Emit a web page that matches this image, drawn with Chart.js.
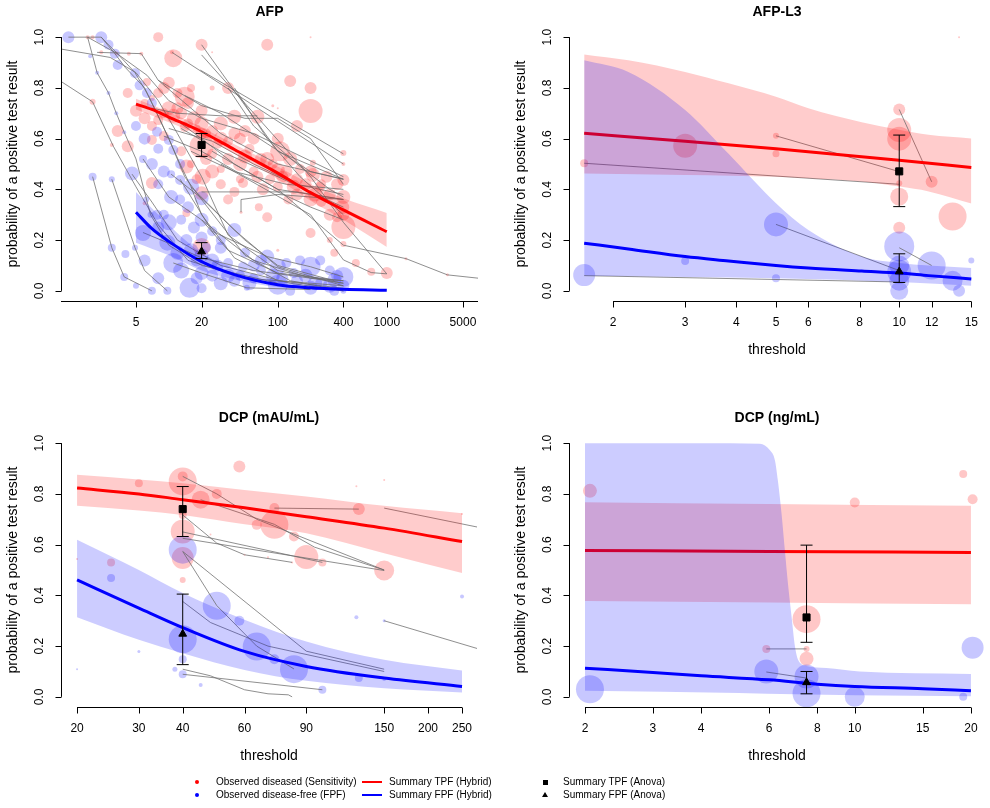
<!DOCTYPE html>
<html>
<head>
<meta charset="utf-8">
<title>Threshold summary plots</title>
<script src="https://cdn.jsdelivr.net/npm/chart.js@4.4.1/dist/chart.umd.min.js"></script>
<style>
  body { margin: 0; background: #fff; font-family: "Liberation Sans", Arial, Helvetica, sans-serif; }
  #page { position: relative; width: 990px; height: 808px; overflow: hidden; }
  canvas { position: absolute; }
  .lg { position: absolute; font-size: 10px; line-height: 12px; white-space: nowrap; color: #000; }
  .dot { position: absolute; width: 4px; height: 4px; border-radius: 50%; }
  .bar { position: absolute; width: 20px; height: 2px; }
  .sq { position: absolute; width: 5px; height: 5px; background: #000; }
  .tri { position: absolute; width: 0; height: 0; border-left: 3px solid transparent; border-right: 3px solid transparent; border-bottom: 5px solid #000; }
</style>
</head>
<body>
<div id="page">
  <canvas id="afp" width="495" height="400" style="left:0;top:0"></canvas>
  <canvas id="afpl3" width="495" height="400" style="left:495px;top:0"></canvas>
  <canvas id="dcpmau" width="495" height="380" style="left:0;top:400px"></canvas>
  <canvas id="dcpng" width="495" height="380" style="left:495px;top:400px"></canvas>

  <span class="dot" style="left:195px;top:780px;background:#f00"></span>
  <span class="lg" style="left:216px;top:776px">Observed diseased (Sensitivity)</span>
  <span class="dot" style="left:195px;top:793px;background:#00f"></span>
  <span class="lg" style="left:216px;top:789px">Observed disease-free (FPF)</span>
  <span class="bar" style="left:362px;top:781px;background:#f00"></span>
  <span class="lg" style="left:389px;top:776px">Summary TPF (Hybrid)</span>
  <span class="bar" style="left:362px;top:794px;background:#00f"></span>
  <span class="lg" style="left:389px;top:789px">Summary FPF (Hybrid)</span>
  <span class="sq" style="left:543px;top:780px"></span>
  <span class="lg" style="left:563px;top:776px">Summary TPF (Anova)</span>
  <span class="tri" style="left:542px;top:792px"></span>
  <span class="lg" style="left:563px;top:789px">Summary FPF (Anova)</span>
</div>
<script>
// shared axis ticks
const yTicks = [0, 0.2, 0.4, 0.6, 0.8, 1.0];

// ---------- AFP ----------
const afpTicks = [5, 20, 100, 400, 1000, 5000];
// [threshold, probability, study weight]
const afpDiseased = [
  [8,1.0,5],[20,0.97,6],[80,0.97,6],[200,1.0,1],[11,0.917,9],[10.7,0.94,2],[130,0.827,6],[200,0.80,6],
  [200,0.709,12],[90,0.73,1.5],[150,0.65,6],[35,0.80,6],[14,0.765,10],[10,0.82,6],[16,0.80,4],[25,0.80,2.5],
  [40,0.686,7],[65,0.686,7],[30,0.66,7],[20,0.71,6],[11,0.69,7],[5,0.71,6],[4.2,0.78,5],[3.4,0.63,6],
  [4.2,0.57,6],[2,0.745,3],[3,0.575,2],[7,0.425,6],[6,0.345,2],[9,0.61,5],[20,0.57,12],[20.5,0.45,8],
  [20,0.385,7],[20,0.173,9],[25,0.54,5],[30,0.48,4],[35,0.59,5],[50,0.53,7],[48,0.425,5],[80,0.29,5],
  [105,0.55,10],[100,0.476,7],[100,0.41,5],[160,0.48,5],[210,0.457,7],[200,0.36,7],[200,0.228,5],[210,0.505,3],
  [400,0.543,3],[400,0.50,2],[400,0.437,6],[400,0.37,7],[400,0.252,12],[390,0.33,7],[330,0.15,4],[520,0.11,4],
  [720,0.075,4],[1000,0.07,6],[1500,0.127,1.5],[3600,0.063,1.5],[400,0.185,3],[300,0.2,3],[46,0.31,1.5],[100,0.16,1.5],
  [14.5,0.49,7],[22,0.62,5],[14,0.646,5],[8,0.673,5],[7,0.595,5],[6.3,0.823,4],[5.6,0.935,2],[4.3,0.935,2],
  [3.3,0.937,2],[2.4,0.94,2],[1.8,1.0,2],[2.0,1.0,2],[14.5,0.307,4],[35,0.36,5],[30,0.42,5],[67,0.33,4],
  [40,0.39,5],[140,0.41,7],[245,0.41,5],[350,0.29,5],[125,0.36,5],[73,0.40,6],[12,0.72,6],[15,0.66,5],
  [18,0.64,4],[25,0.63,6],[28,0.58,5],[45,0.60,6],[55,0.56,5],[70,0.52,6],[90,0.50,5],[120,0.47,6],
  [150,0.44,6],[250,0.42,5],[300,0.38,6],[250,0.35,5],[6,0.74,4],[7,0.76,3],[9,0.70,5],[13,0.55,5],
  [16,0.50,4],[18,0.44,5],[45,0.44,4],[60,0.47,5],[85,0.44,5],[25,0.94,1],[100,0.72,1],
  [6,0.68,6],[7,0.65,5],[8,0.78,5],[9,0.80,6],[10,0.72,7],[12,0.78,5],[13,0.70,6],[15,0.74,6],
  [17,0.68,7],[20,0.66,7],[20,0.62,6],[22,0.52,6],[25,0.47,7],[30,0.60,7],[35,0.52,6],[40,0.62,6],
  [45,0.50,7],[50,0.63,6],[60,0.60,6],[65,0.45,6],[80,0.52,7],[100,0.60,6],[110,0.45,6],[130,0.52,7],
  [150,0.38,6],[180,0.42,6],[200,0.47,6],[220,0.38,7],[280,0.45,6],[300,0.30,6],[350,0.42,6],[400,0.30,6]
];
const afpFree = [
  [1.2,1.0,6],[2.4,1.0,6],[2.8,0.97,5],[3.2,0.935,5],[3.4,0.89,5],[4.9,0.858,5],[5.4,0.81,5],[6.3,0.78,5],
  [7,0.74,5],[7.8,0.627,5],[10,0.595,5],[11,0.555,5],[12.7,0.50,5],[4.6,0.463,7],[5.8,0.52,4],[16,0.41,8],
  [20,0.365,7],[20,0.28,7],[10.5,0.37,7],[10.5,0.46,4],[12.7,0.437,5],[5.8,0.228,8],[9.7,0.19,8],[11,0.11,10],
  [15.5,0.012,10],[20,0.07,7],[20,0.01,5],[30,0.03,7],[40,0.24,7],[25,0.235,5],[35,0.11,5],[48,0.095,5],
  [80,0.135,7],[100,0.095,8],[100,0.024,10],[140,0.07,5],[200,0.095,10],[200,0.012,7],[330,0.043,7],[400,0.055,10],
  [400,0.0,3],[330,0.0,5],[130,0.0,5],[52,0.012,3],[9.7,0.0,4],[7,0.0,4],[2,0.45,4],[3,0.44,3],
  [3,0.17,4],[4,0.145,4],[4.9,0.17,3],[3.9,0.055,4],[5,0.02,3],[2.2,0.86,2],[2.8,0.78,2],[3.3,0.70,2],
  [3.9,0.625,2],[1.9,0.925,2],[6.2,0.36,3],[6.8,0.30,3],[245,0.12,5],[120,0.11,5],[60,0.05,5],[25,0.06,6],
  [12.7,0.36,5],[7.8,0.30,5],[14.5,0.20,6],[22,0.17,5],[8,0.25,6],[9,0.30,5],[13,0.28,5],[17,0.25,6],
  [30,0.17,6],[50,0.15,5],[60,0.10,6],[70,0.08,5],[150,0.04,6],[250,0.03,6],[300,0.08,5],[400,0.02,6],
  [160,0.12,5],[45,0.06,5],[18,0.12,6],[8,0.42,5],[15,0.33,6],[20,0.21,6],[30,0.20,5],
  [5,0.65,5],[6,0.60,6],[7,0.50,6],[8,0.56,5],[9,0.47,6],[10,0.27,8],[12,0.15,7],[13,0.08,8],
  [16,0.16,7],[18,0.05,6],[20,0.14,7],[25,0.12,7],[28,0.10,6],[35,0.06,7],[40,0.04,6],[55,0.03,7],
  [70,0.12,6],[90,0.06,7],[110,0.05,6],[180,0.06,7],[220,0.03,7],[300,0.02,7],[350,0.06,6],[6,0.12,6],[8,0.05,6]
];
const afpLinks = [
  [[10.7,0.94],[400,0.50]],
  [[20,0.97],[100,0.55],[400,0.44]],
  [[19.5,0.87],[400,0.54]],
  [[2.2,0.94],[5.6,0.935],[8,0.83],[15,0.73],[30,0.62],[100,0.5],[400,0.44]],
  [[1.8,1.0],[3.3,0.937],[6.3,0.85],[10,0.75],[20,0.68],[60,0.62],[400,0.45]],
  [[8,0.83],[20,0.73],[50,0.68],[100,0.68],[200,0.6],[400,0.42]],
  [[12,0.67],[20,0.6],[40,0.5],[100,0.4],[400,0.36]],
  [[13,0.64],[30,0.55],[100,0.45],[250,0.37],[400,0.33]],
  [[25,0.55],[100,0.4],[400,0.18],[1500,0.127],[3600,0.063],[6870,0.05]],
  [[30,0.5],[200,0.3],[400,0.122],[720,0.072],[1000,0.067]],
  [[20,0.93],[200,0.45],[400,0.27],[1000,0.067]],
  [[40,0.8],[80,0.6],[160,0.45],[400,0.3]],
  [[35,0.8],[60,0.65],[150,0.5],[300,0.4],[400,0.37]],
  [[46,0.31],[46,0.36],[100,0.38],[400,0.36]],
  [[7,0.72],[12,0.70],[30,0.69],[65,0.69]],
  [[10,0.64],[25,0.59],[60,0.5],[150,0.42],[400,0.38]],
  [[16,0.55],[40,0.47],[120,0.42],[400,0.4]],
  [[20,0.39],[60,0.39],[150,0.39],[400,0.36]],
  [[9,0.61],[20,0.55],[50,0.45],[200,0.33],[400,0.28]],
  [[14,0.77],[30,0.7],[80,0.58],[200,0.47],[400,0.44]],
  [[1.2,1.0],[1.8,1.0],[2.4,1.0],[2.8,0.97],[3.3,0.94],[4.9,0.86],[6.3,0.78],[7.8,0.7],[10,0.6],[12.7,0.5],[16,0.41],[20,0.3],[40,0.13],[100,0.04],[400,0.01]],
  [[1.03,0.953],[2.9,0.92],[5,0.86],[8,0.75],[12,0.62],[20,0.45],[35,0.22],[100,0.08],[400,0.03]],
  [[1.03,0.825],[2,0.745],[3.1,0.57],[5,0.41],[8,0.26],[15,0.12],[50,0.05],[400,0.02]],
  [[1.8,1.0],[2.2,0.86],[2.8,0.78],[3.3,0.7],[3.9,0.625],[5,0.52],[6.8,0.3],[10,0.18],[20,0.1],[100,0.03]],
  [[2,0.45],[3,0.17],[3.9,0.055],[7,0.0]],
  [[3,0.44],[4.9,0.17],[6,0.08],[9.7,0.0]],
  [[2.4,1.0],[3.2,0.935],[4,0.88],[6,0.80],[7,0.74],[10,0.6],[14,0.45],[20,0.36],[50,0.14],[130,0.04],[400,0.0]],
  [[5.8,0.52],[10,0.37],[20,0.28],[60,0.12],[200,0.05],[400,0.04]],
  [[10.5,0.46],[20,0.365],[50,0.2],[100,0.1],[330,0.04]],
  [[12.7,0.44],[25,0.235],[80,0.135],[200,0.095],[400,0.055]],
  [[16,0.41],[40,0.24],[100,0.095],[400,0.02]],
  [[5.8,0.23],[9.7,0.19],[20,0.13],[60,0.08],[200,0.05],[400,0.03]],
  [[4.6,0.46],[7,0.35],[12,0.2],[30,0.1],[130,0.03],[400,0.0]],
  [[20,0.28],[35,0.16],[100,0.07],[245,0.05],[400,0.04]],
  [[11,0.11],[20,0.07],[52,0.012],[200,0.005]]
];
const afpTpfFit = [[5,0.736],[7,0.715],[10,0.685],[20,0.627],[40,0.557],[100,0.464],[200,0.387],[400,0.319],[1000,0.233]];
const afpTpfLo  = [[5,0.715],[10,0.665],[20,0.61],[40,0.54],[100,0.44],[200,0.355],[400,0.28],[1000,0.173]];
const afpTpfHi  = [[5,0.757],[10,0.705],[20,0.645],[40,0.578],[100,0.49],[200,0.42],[400,0.365],[1000,0.307]];
const afpFpfFit = [[5,0.31],[7,0.245],[10,0.195],[20,0.115],[40,0.064],[100,0.024],[200,0.012],[400,0.006],[1000,0.002]];
const afpFpfLo  = [[5,0.19],[10,0.14],[20,0.08],[40,0.045],[100,0.015],[400,0.003],[1000,0.001]];
const afpFpfHi  = [[5,0.39],[10,0.26],[20,0.15],[40,0.09],[100,0.04],[400,0.012],[1000,0.006]];
const afpAnovaT = 20;
const afpAnovaTpf = [0.575, 0.53, 0.62];   // estimate, lower, upper
const afpAnovaFpf = [0.155, 0.127, 0.19];

// ---------- AFP-L3 ----------
const l3Ticks = [2, 3, 4, 5, 6, 8, 10, 12, 15];
const l3Diseased = [[1.7,0.503,4],[3,0.572,12],[5,0.611,3],[5,0.54,3.5],[10,0.715,6],[10,0.634,12],[10,0.60,12],
  [10,0.424,3],[10,0.371,9],[10,0.249,6],[12,0.43,6],[13.5,0.293,14],[14,1.0,1]];
const l3Free = [[1.7,0.062,11],[3,0.118,4],[5,0.262,12],[5,0.05,4],[10,0.175,15],[10,0.10,10],[10,0.075,12],
  [10,0.04,10],[10,0.0,9],[12,0.10,14],[13.5,0.04,10],[14,0.0,6],[15,0.12,3]];
const l3Links = [
  [[1.7,0.503],[10,0.42]], [[5,0.611],[10,0.47]], [[10,0.715],[12,0.43]],
  [[1.7,0.06],[10,0.035]], [[5,0.262],[10,0.08]], [[10,0.17],[12,0.10]]
];
const l3TpfFit = [[1.7,0.621],[3,0.59],[5,0.56],[10,0.515],[15,0.486]];
const l3TpfHi  = [[1.7,0.932],[2.18,0.909],[3,0.863],[3.83,0.818],[5,0.765],[6,0.72],[8.1,0.665],[10,0.635],[11.8,0.615],[15,0.601]];
const l3TpfLo  = [[1.7,0.463],[3,0.457],[5,0.45],[6,0.444],[8.1,0.431],[10,0.411],[11.8,0.392],[15,0.344]];
const l3FpfFit = [[1.7,0.188],[2.18,0.165],[3,0.135],[3.83,0.118],[5,0.10],[6,0.09],[8.1,0.078],[10,0.07],[11.8,0.06],[15,0.047]];
const l3FpfHi  = [[1.7,0.909],[2.18,0.863],[3,0.713],[3.83,0.54],[5,0.345],[6,0.24],[8.1,0.135],[10,0.11],[11.8,0.10],[15,0.09]];
const l3FpfLo  = [[1.7,0.06],[3,0.055],[5,0.05],[10,0.035],[15,0.02]];
const l3AnovaT = 10;
const l3AnovaTpf = [0.471, 0.332, 0.614];
const l3AnovaFpf = [0.076, 0.033, 0.146];

// ---------- DCP (mAU/mL) ----------
const mauTicks = [20, 30, 40, 60, 90, 150, 200, 250];
const mauDiseased = [[20,0.543,1],[25,0.53,4],[30,0.842,4],[40,0.849,14],[40,0.869,5],[40,0.717,4],[40,0.652,12],
  [40,0.547,11],[40,0.461,3],[45,0.777,9],[50,0.80,5],[58,0.908,6],[65,0.678,5],[73,0.678,14],[73,0.744,5],
  [83,0.632,5],[90,0.551,12],[100,0.53,4],[127,0.74,6],[125,0.83,1],[150,0.498,10],[150,0.855,1],[250,0.721,1],
  [48,0.64,1],[60,0.56,1],[70,0.55,1],[82,0.53,1]];
const mauFree = [[20,0.109,1],[25,0.468,4],[30,0.179,1.5],[40,0.58,14],[40,0.227,14],[40,0.148,4],[38,0.109,2.5],
  [40,0.089,4],[45,0.047,2],[50,0.359,14],[58,0.30,5],[65,0.198,14],[73,0.148,5],[83,0.109,14],[100,0.028,4],
  [125,0.314,2],[127,0.074,4],[150,0.30,1.5],[250,0.396,2],[150,0.07,2]];
const mauLinks = [
  [[40,0.869],[50,0.80],[65,0.70],[150,0.50]],
  [[40,0.717],[50,0.606],[60,0.56],[82,0.53]],
  [[40,0.65],[100,0.53]],
  [[40,0.625],[150,0.498]],
  [[45,0.777],[73,0.68],[95,0.59],[150,0.5]],
  [[73,0.744],[127,0.74]],
  [[150,0.744],[277,0.669]],
  [[40,0.573],[50,0.36],[65,0.20],[83,0.11]],
  [[40,0.573],[90,0.18],[150,0.109]],
  [[40,0.376],[48,0.293],[70,0.20],[150,0.10]],
  [[40,0.109],[48,0.083],[60,0.028],[70,0.012],[80,0.008],[82,0.0]],
  [[40,0.089],[100,0.028]],
  [[150,0.30],[277,0.19]]
];
const mauTpfFit = [[20,0.823],[30,0.80],[40,0.777],[60,0.745],[90,0.71],[150,0.665],[250,0.612]];
const mauTpfHi  = [[20,0.875],[30,0.857],[40,0.842],[60,0.815],[90,0.79],[150,0.753],[250,0.724]];
const mauTpfLo  = [[20,0.753],[30,0.735],[40,0.717],[60,0.68],[90,0.645],[150,0.566],[250,0.488]];
const mauFpfFit = [[20,0.461],[30,0.35],[40,0.273],[60,0.179],[90,0.12],[150,0.074],[250,0.041]];
const mauFpfHi  = [[20,0.619],[30,0.50],[40,0.409],[60,0.304],[90,0.218],[150,0.146],[250,0.104]];
const mauFpfLo  = [[20,0.314],[30,0.225],[40,0.172],[60,0.106],[90,0.063],[150,0.034],[250,0.017]];
const mauAnovaT = 40;
const mauAnovaTpf = [0.74, 0.632, 0.829];
const mauAnovaFpf = [0.248, 0.127, 0.405];

// ---------- DCP (ng/mL) ----------
const ngTicks = [2, 3, 4, 6, 8, 10, 15, 20];
const ngDiseased = [[2.06,0.812,7],[5.9,0.189,4],[7.5,0.189,3],[7.5,0.15,7],[7.5,0.306,14],[10,0.766,5],[19.1,0.878,4],[20.2,0.779,5]];
const ngFree = [[2.06,0.03,14],[5.9,0.10,12],[7.5,0.08,12],[7.5,0.014,14],[10,0.0,10],[19.1,0.0,4],[20.2,0.194,11]];
const ngLinks = [[[5.9,0.189],[7.5,0.189]], [[5.9,0.098],[7.5,0.074]]];
const ngTpfFit = [[2,0.577],[6,0.573],[20,0.569]];
const ngTpfHi  = [[2,0.767],[6,0.76],[20,0.753]];
const ngTpfLo  = [[2,0.378],[6,0.372],[20,0.365]];
const ngFpfFit = [[2,0.113],[3,0.096],[4,0.083],[6,0.067],[8,0.05],[10,0.041],[15,0.032],[20,0.024]];
const ngFpfHi  = [[2,1.0],[4,1.0],[5.68,0.998],[6.03,0.972],[6.21,0.933],[6.32,0.854],[6.46,0.724],[6.6,0.567],
  [6.71,0.45],[6.86,0.316],[7.0,0.198],[7.13,0.146],[7.5,0.122],[8.45,0.114],[10.3,0.10],[20,0.09]];
const ngFpfLo  = [[2,0.024],[5,0.015],[7,0.01],[10,0.006],[20,0.002]];
const ngAnovaT = 7.5;
const ngAnovaTpf = [0.313, 0.215, 0.598];
const ngAnovaFpf = [0.057, 0.012, 0.10];

// ---------- colours ----------
const RED_PT = 'rgba(255,0,0,0.22)';
const BLUE_PT = 'rgba(0,0,255,0.22)';
const RED_BAND = 'rgba(255,0,0,0.2)';
const BLUE_BAND = 'rgba(0,0,255,0.2)';
const LINK = 'rgba(105,105,105,0.75)';
const FONT = '"Liberation Sans", Arial, Helvetica, sans-serif';

// R-style axes, titles and rotated y tick labels
const rAxes = {
  id: 'rAxes',
  afterDraw(chart, args, o) {
    const { ctx, chartArea: a } = chart;
    const xs = chart.scales.x, ys = chart.scales.y;
    ctx.save();
    ctx.strokeStyle = '#000';
    ctx.fillStyle = '#000';
    ctx.lineWidth = 1;
    const yb = Math.round(a.bottom) + 0.5;
    const xl = Math.round(a.left) + 0.5;
    ctx.beginPath();
    ctx.moveTo(xs.getPixelForValue(o.xLine[0]), yb);
    ctx.lineTo(xs.getPixelForValue(o.xLine[1]), yb);
    o.xTicks.forEach(v => {
      const px = Math.round(xs.getPixelForValue(v)) + 0.5;
      ctx.moveTo(px, yb);
      ctx.lineTo(px, yb + 6);
    });
    ctx.moveTo(xl, ys.getPixelForValue(0));
    ctx.lineTo(xl, ys.getPixelForValue(1));
    yTicks.forEach(v => {
      const py = Math.round(ys.getPixelForValue(v)) + 0.5;
      ctx.moveTo(xl, py);
      ctx.lineTo(xl - 6, py);
    });
    ctx.stroke();

    ctx.font = '12px ' + FONT;
    ctx.textAlign = 'center';
    ctx.textBaseline = 'middle';
    o.xTicks.forEach(v => ctx.fillText(String(v), xs.getPixelForValue(v), a.bottom + 22));
    yTicks.forEach(v => {
      ctx.save();
      ctx.translate(a.left - 21, ys.getPixelForValue(v));
      ctx.rotate(-Math.PI / 2);
      ctx.fillText(v.toFixed(1), 0, 0);
      ctx.restore();
    });

    const cx = (a.left + a.right) / 2;
    ctx.font = '14px ' + FONT;
    ctx.fillText('threshold', cx, a.bottom + 49);
    ctx.save();
    ctx.translate(a.left - 48, (ys.getPixelForValue(0) + ys.getPixelForValue(1)) / 2);
    ctx.rotate(-Math.PI / 2);
    ctx.fillText('probability of a positive test result', 0, 0);
    ctx.restore();

    ctx.font = 'bold 14px ' + FONT;
    ctx.fillText(o.title, cx, a.top - 15);
    ctx.restore();
  }
};

const bub = arr => arr.map(([x, y, w]) => ({ x, y, r: w }));
const pts = arr => arr.map(([x, y]) => ({ x, y }));
function polylines(list) {
  const out = [];
  list.forEach((pl, i) => {
    if (i > 0) out.push({ x: pl[0][0], y: null });
    pl.forEach(([x, y]) => out.push({ x, y }));
  });
  return out;
}
function curve(data, color, order) {
  return { type: 'line', data: pts(data), borderColor: color, borderWidth: 3, pointRadius: 0,
    fill: false, cubicInterpolationMode: 'monotone', order: order };
}
function bandEdge(data, fillTo, color, order) {
  return { type: 'line', data: pts(data), borderColor: 'rgba(0,0,0,0)', borderWidth: 0, pointRadius: 0,
    fill: fillTo, backgroundColor: color, cubicInterpolationMode: 'monotone', order: order };
}

function makePanel(id, p) {
  const datasets = [
    { type: 'bubble', data: bub(p.diseased), backgroundColor: RED_PT, borderWidth: 0, order: 20 },
    { type: 'bubble', data: bub(p.free), backgroundColor: BLUE_PT, borderWidth: 0, order: 19 },
    { type: 'line', data: polylines(p.links), borderColor: LINK, borderWidth: 1, pointRadius: 0, spanGaps: false, fill: false, order: 18 },
    bandEdge(p.tpfLo, false, RED_BAND, 17),
    bandEdge(p.tpfHi, 3, RED_BAND, 16),
    curve(p.tpfFit, '#ff0000', 15),
    bandEdge(p.fpfLo, false, BLUE_BAND, 14),
    bandEdge(p.fpfHi, 6, BLUE_BAND, 13),
    curve(p.fpfFit, '#0000ff', 12),
    { type: 'line', order: 11, fill: false,
      data: [{ x: p.anovaT, y: p.anovaTpf[1] }, { x: p.anovaT, y: p.anovaTpf[2] }, { x: p.anovaT, y: null },
             { x: p.anovaT, y: p.anovaFpf[1] }, { x: p.anovaT, y: p.anovaFpf[2] }],
      borderColor: '#000', borderWidth: 1, pointStyle: 'line', pointRadius: 6,
      pointBorderColor: '#000', pointBorderWidth: 1 },
    { type: 'line', showLine: false, order: 10, data: [{ x: p.anovaT, y: p.anovaTpf[0] }],
      pointStyle: 'rect', pointRadius: 5, backgroundColor: '#000', borderColor: '#000', pointBackgroundColor: '#000' },
    { type: 'line', showLine: false, order: 9, data: [{ x: p.anovaT, y: p.anovaFpf[0] }],
      pointStyle: 'triangle', pointRadius: 4.5, backgroundColor: '#000', borderColor: '#000', pointBackgroundColor: '#000' }
  ];

  new Chart(document.getElementById(id), {
    type: 'bubble',
    data: { datasets: datasets },
    plugins: [rAxes],
    options: {
      responsive: false,
      animation: false,
      events: [],
      layout: { padding: p.pad, autoPadding: false },
      scales: {
        x: { type: 'logarithmic', display: false, min: p.xMin, max: p.xMax },
        y: { type: 'linear', display: false, min: -0.04, max: 1.04 }
      },
      plugins: {
        legend: { display: false },
        tooltip: { enabled: false },
        rAxes: { title: p.title, xTicks: p.ticks, xLine: p.xLine }
      }
    }
  });
}

makePanel('afp', {
  title: 'AFP', ticks: afpTicks, xMin: 1.026, xMax: 6870, xLine: [1.026, 6870],
  pad: { left: 61, right: 17, top: 27, bottom: 99 },
  diseased: afpDiseased, free: afpFree, links: afpLinks,
  tpfFit: afpTpfFit, tpfLo: afpTpfLo, tpfHi: afpTpfHi, fpfFit: afpFpfFit, fpfLo: afpFpfLo, fpfHi: afpFpfHi,
  anovaT: afpAnovaT, anovaTpf: afpAnovaTpf, anovaFpf: afpAnovaFpf
});
makePanel('afpl3', {
  title: 'AFP-L3', ticks: l3Ticks, xMin: 1.561, xMax: 16.2, xLine: [2, 15],
  pad: { left: 74, right: 5, top: 27, bottom: 99 },
  diseased: l3Diseased, free: l3Free, links: l3Links,
  tpfFit: l3TpfFit, tpfLo: l3TpfLo, tpfHi: l3TpfHi, fpfFit: l3FpfFit, fpfLo: l3FpfLo, fpfHi: l3FpfHi,
  anovaT: l3AnovaT, anovaTpf: l3AnovaTpf, anovaFpf: l3AnovaFpf
});
makePanel('dcpmau', {
  title: 'DCP (mAU/mL)', ticks: mauTicks, xMin: 18.0, xMax: 275.8, xLine: [20, 250],
  pad: { left: 61, right: 18, top: 33, bottom: 73 },
  diseased: mauDiseased, free: mauFree, links: mauLinks,
  tpfFit: mauTpfFit, tpfLo: mauTpfLo, tpfHi: mauTpfHi, fpfFit: mauFpfFit, fpfLo: mauFpfLo, fpfHi: mauFpfHi,
  anovaT: mauAnovaT, anovaTpf: mauAnovaTpf, anovaFpf: mauAnovaFpf
});
makePanel('dcpng', {
  title: 'DCP (ng/mL)', ticks: ngTicks, xMin: 1.818, xMax: 21.75, xLine: [2, 20],
  pad: { left: 74, right: 5, top: 33, bottom: 73 },
  diseased: ngDiseased, free: ngFree, links: ngLinks,
  tpfFit: ngTpfFit, tpfLo: ngTpfLo, tpfHi: ngTpfHi, fpfFit: ngFpfFit, fpfLo: ngFpfLo, fpfHi: ngFpfHi,
  anovaT: ngAnovaT, anovaTpf: ngAnovaTpf, anovaFpf: ngAnovaFpf
});
</script>
</body>
</html>
